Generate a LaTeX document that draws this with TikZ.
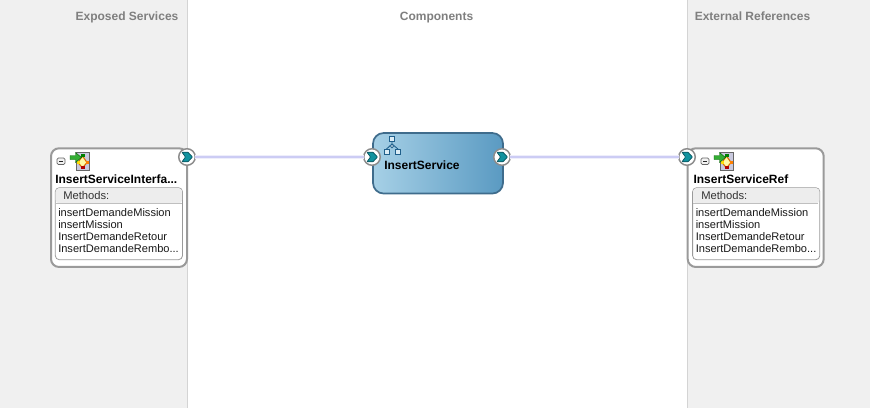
\documentclass[tikz,border=0pt]{standalone}
\usepackage{fontspec}
\setmainfont{Liberation Sans}
\usetikzlibrary{shadings}
\definecolor{panelbg}{HTML}{F0F0F0}
\definecolor{panelline}{HTML}{D4D4D4}
\definecolor{headtxt}{HTML}{7F7F7F}
\definecolor{boxline}{HTML}{9A9A9A}
\definecolor{wire}{HTML}{CCCCF4}
\definecolor{wirehalo}{HTML}{EEEEFB}
\definecolor{compline}{HTML}{3F6C8C}
\definecolor{compA}{HTML}{A6D0E6}
\definecolor{compB}{HTML}{5A9AC2}
\definecolor{teal}{HTML}{12939F}
\definecolor{tealdark}{HTML}{0B5560}
\definecolor{iconline}{HTML}{1F5F8B}
\definecolor{iconbg}{HTML}{C9C9DE}
\pgfdeclarehorizontalshading{compshade}{100bp}{color(0bp)=(compA); color(25bp)=(compA); color(75bp)=(compB); color(100bp)=(compB)}
\tikzset{
  x=0.75pt, y=-0.75pt,
  headlabel/.style={font=\fontsize{9}{11}\selectfont\bfseries, text=headtxt, inner sep=0pt, anchor=base},
  refbox/.style={draw=boxline, line width=1.5pt, fill=white, rounded corners=6pt, minimum width=102pt, minimum height=89pt, inner sep=0pt, outer sep=0pt, anchor=north west},
  methodbox/.style={draw=boxline, line width=0.6pt, fill=white, rounded corners=3pt, minimum width=95.4pt, minimum height=54pt, inner sep=0pt, outer sep=0pt, anchor=north west},
  methodhead/.style={fill=black!7, rounded corners=2.6pt, minimum width=94.8pt, minimum height=11.4pt, inner sep=0pt, outer sep=0pt, anchor=north west},
  titletext/.style={font=\fontsize{9}{11}\selectfont\bfseries, inner sep=0pt, anchor=base west},
  methodtitle/.style={font=\fontsize{8.4}{10}\selectfont, text=black!80, inner sep=0pt, anchor=base west},
  methodtext/.style={font=\fontsize{8.3}{9}\selectfont, inner sep=0pt, anchor=north west, align=left, text=black!90},
  compbox/.style={draw=compline, line width=1.3pt, shading=compshade, rounded corners=8pt, minimum width=97.5pt, minimum height=45.4pt, inner sep=0pt, outer sep=0pt, anchor=north west},
  portnode/.style={circle, draw=black!45, line width=1.1pt, fill=white, minimum size=12.4pt, inner sep=0pt, outer sep=0pt},
  wireline/.style={draw=wire, line width=1.3pt},
  wirehalostyle/.style={draw=wirehalo, line width=2.4pt},
}
\newcommand{\chevronat}[2]{%
  \fill[teal, draw=tealdark, line width=0.55pt, rounded corners=0.5pt] (#1-5,#2-4.8) -- (#1+1,#2-4.8) -- (#1+5.5,#2) -- (#1+1,#2+4.8) -- (#1-5,#2+4.8) -- (#1-1.5,#2) -- cycle;}
\newcommand{\iconat}[2]{%
  % collapse box
  \draw[black!60, line width=0.5pt, fill=black!5, rounded corners=1pt] (#1-19,#2+6) rectangle (#1-11,#2+12.5);
  \draw[black!85, line width=0.7pt] (#1-17,#2+9.2) -- (#1-13,#2+9.2);
  % document square
  \fill[iconbg, draw=black!60, line width=0.5pt] (#1,#2) rectangle (#1+13.5,#2+18);
  \draw[orange!85!black, line width=0.8pt, fill=yellow!35] (#1+6.5,#2+4) -- (#1+11,#2+10.5) -- (#1+6.5,#2+16) -- (#1+2,#2+10.5) -- cycle;
  \fill[green!50!black] (#1+5,#2+1.5) rectangle (#1+8.5,#2+4.5);
  \fill[red!70!black] (#1+5,#2+14) rectangle (#1+8.5,#2+17);
  \fill[orange] (#1+9.5,#2+9) rectangle (#1+12.5,#2+12);
  \fill[yellow!80!orange] (#1+0.8,#2+9) rectangle (#1+3.6,#2+12);
  \fill[green!60!black!80, draw=green!35!black, line width=0.3pt] (#1-6,#2+3.5) -- (#1-0.5,#2+3.5) -- (#1-0.5,#2+0.5) -- (#1+5.5,#2+5.5) -- (#1-0.5,#2+10.5) -- (#1-0.5,#2+7.5) -- (#1-6,#2+7.5) -- cycle;}
\begin{document}
\begin{tikzpicture}
\useasboundingbox (0,0) rectangle (870,408);
\fill[white] (0,0) rectangle (870,408);
\fill[panelbg] (0,0) rectangle (187,408);
\fill[panelbg] (687,0) rectangle (870,408);
\draw[panelline, line width=0.75pt] (187.5,0) -- (187.5,408);
\draw[panelline, line width=0.75pt] (687.5,0) -- (687.5,408);
\node[headlabel] (hl) at (127,20) {Exposed Services};
\node[headlabel] (hc) at (436.5,20) {Components};
\node[headlabel] (hr) at (752.5,20) {External References};

% boxes
\node[refbox] (lbox) at (51,148.3) {};
\node[refbox] (rbox) at (687.7,148.3) {};
\node[compbox] (comp) at (373,133) {};

% ports
\node[portnode] (lport) at (187,157) {};
\node[portnode] (cin) at (372,157) {};
\node[portnode] (cout) at (502,157) {};
\node[portnode] (rport) at (687,157) {};

% connectors
\draw[wirehalostyle] (lport) -- (cin);
\draw[wirehalostyle] (cout) -- (rport);
\draw[wireline] (lport) -- (cin);
\draw[wireline] (cout) -- (rport);

\chevronat{187}{157}
\chevronat{372}{157}
\chevronat{502}{157}
\chevronat{687}{157}

% left content
\iconat{76}{152}
\node[titletext] (ltitle) at (55,183) {InsertServiceInterfa...};
\node[methodbox] (lmeth) at (55.3,187.7) {};
\node[methodhead] (lmh) at (55.7,188.1) {};
\draw[black!25, line width=0.5pt] (55.7,203.5) -- (182.2,203.5);
\node[methodtitle] (lmt) at (63,199.3) {Methods:};
\node[methodtext] (lml) at (58,208.3) {insertDemandeMission\\insertMission\\InsertDemandeRetour\\InsertDemandeRembo...};

% right content
\iconat{720}{152}
\node[titletext] (rtitle) at (693.3,183) {InsertServiceRef};
\node[methodbox] (rmeth) at (692.6,187.7) {};
\node[methodhead] (rmh) at (693,188.1) {};
\draw[black!25, line width=0.5pt] (693,203.5) -- (818.2,203.5);
\node[methodtitle] (rmt) at (701,199.3) {Methods:};
\node[methodtext] (rml) at (695.5,208.3) {insertDemandeMission\\insertMission\\InsertDemandeRetour\\InsertDemandeRembo...};

% composite icon
\begin{scope}[iconline, line width=0.65pt]
\draw[fill=white!60!compA] (389.5,136.5) rectangle (394.5,141.5);
\draw[fill=white!60!compA] (384,149) rectangle (389,154);
\draw[fill=white!60!compA] (395.5,149) rectangle (400.5,154);
\draw (392,141.5) -- (392,144) (386.5,149) -- (392,144) -- (398,149);
\draw[fill=white] (392,144.3) -- (393.6,146) -- (392,147.7) -- (390.4,146) -- cycle;
\end{scope}
\node[titletext] (ctitle) at (384,169) {InsertService};
\end{tikzpicture}
\end{document}
